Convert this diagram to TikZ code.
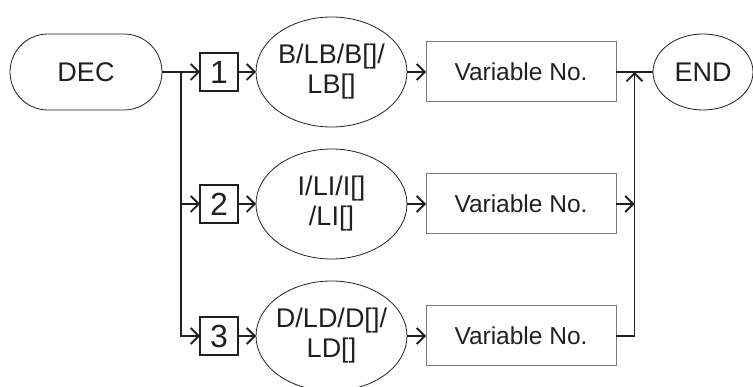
\documentclass[tikz,border=0pt]{standalone}
\usepackage{fontspec}
\setmainfont{Liberation Sans}
\usetikzlibrary{arrows.meta, positioning, calc, shapes.geometric}
\definecolor{inkgray}{RGB}{35,31,32}
\definecolor{edgegray}{RGB}{125,125,125}

\begin{document}
\begin{tikzpicture}[
  x=1pt, y=1pt,
  node distance=18pt and 18pt,
  every node/.style={text=inkgray, font=\fontsize{27}{30}\selectfont, outer sep=0pt},
  term/.style={rectangle, rounded corners=38pt, draw=inkgray, line width=0.8pt,
               minimum width=152pt, minimum height=76pt},
  numbox/.style={rectangle, draw=inkgray, line width=1.4pt, inner sep=0pt,
                 minimum width=38pt, minimum height=38pt, font=\fontsize{32}{32}\selectfont},
  typeoval/.style={ellipse, draw=inkgray, line width=0.8pt, inner sep=-5pt, align=center,
                   minimum width=151pt, minimum height=110pt},
  varbox/.style={rectangle, draw=edgegray, line width=1pt, font=\fontsize{24.5}{28}\selectfont,
                 minimum width=190pt, minimum height=60pt},
  endoval/.style={ellipse, draw=inkgray, line width=0.8pt,
                  minimum width=100pt, minimum height=76pt},
  bus/.style={line width=1.8pt, draw=inkgray},
  conn/.style={bus, -{Straight Barb[length=8pt, width=16pt]}}
]
\useasboundingbox (0,0) rectangle (753,-387);

% first row
\node[term] (dec) at (86,-72) {DEC};
\node[numbox, right=38pt of dec] (n1) {1};
\node[typeoval, right=of n1] (t1) {B/LB/B[]/\\LB[]};
\node[varbox, right=19pt of t1] (v1) {Variable No.};
\node[endoval, right=37pt of v1] (stop) {END};

% second and third rows
\node[numbox, below=94pt of n1] (n2) {2};
\node[typeoval, right=of n2] (t2) {I/LI/I[]\\/LI[]};
\node[varbox, right=19pt of t2] (v2) {Variable No.};
\node[numbox, below=94pt of n2] (n3) {3};
\node[typeoval, right=of n3] (t3) {D/LD/D[]/\\LD[]};
\node[varbox, right=19pt of t3] (v3) {Variable No.};

\coordinate (split) at ($(dec.east)!0.5!(n1.west)$);
\coordinate (join) at ($(v1.east)!0.5!(stop.west)$);

\draw[conn] (dec) -- (n1);
\draw[conn] (split |- n2) -- (n2);
\draw[conn] (split) |- (n3);
\draw[conn] (n1) -- (t1);
\draw[conn] (n2) -- (t2);
\draw[conn] (n3) -- (t3);
\draw[conn] (t1) -- (v1);
\draw[conn] (t2) -- (v2);
\draw[conn] (t3) -- (v3);
\draw[bus] (v1) -- (stop);
\draw[conn] (v2) -- (v2 -| join);
\draw[conn] (v3) -| (join);
\end{tikzpicture}
\end{document}
